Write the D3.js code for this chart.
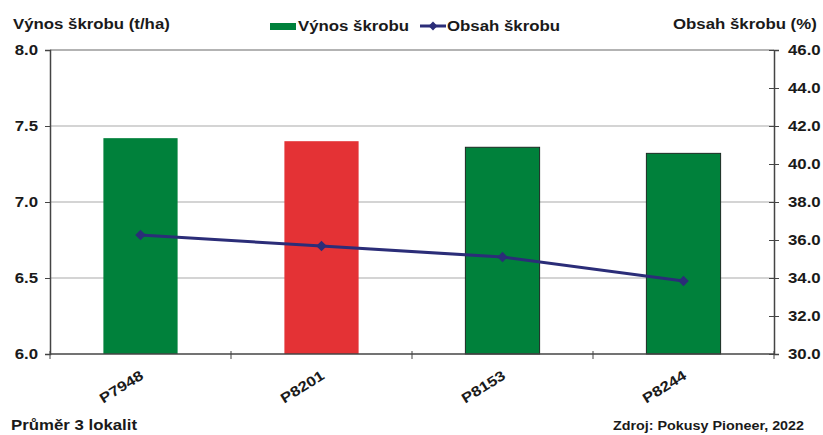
<!DOCTYPE html>
<html><head><meta charset="utf-8">
<script src="https://cdn.jsdelivr.net/npm/d3@7"></script>
<style>body{margin:0;background:#fff}text{font-family:"Liberation Sans",Arial,sans-serif;font-weight:bold;fill:#1a1a1a}</style>
</head><body><svg id="c" width="823" height="435"></svg>
<script>
const categories = ["P7948","P8201","P8153","P8244"];
const yieldValues = [7.42, 7.40, 7.36, 7.32];
const starchValues = [36.26, 35.68, 35.1, 33.84];
const barColors = ["#00813b","#e43235","#00813b","#00813b"];
const barStroke = [false,false,true,true];
const leftTicks = [6.0,6.5,7.0,7.5,8.0];
const rightTicks = [30,32,34,36,38,40,42,44,46];

const FONT = "Liberation Sans";
const STRETCH = 1.2;
const svg = d3.select("#c");
const L=50,R=774,T=50,B=354;
const x = d3.scaleBand().domain(categories).range([L,R]);
const yL = d3.scaleLinear().domain([6,8]).range([B,T]);
const yR = d3.scaleLinear().domain([30,46]).range([B,T]);

// gridlines
svg.append("g").selectAll("line").data(leftTicks.slice(1,4)).join("line")
 .attr("x1",L).attr("x2",R).attr("y1",d=>yL(d)).attr("y2",d=>yL(d))
 .attr("stroke","#d4d4d4").attr("stroke-width",2);
svg.append("line").attr("x1",L).attr("x2",R).attr("y1",T).attr("y2",T).attr("stroke","#9a9a9a").attr("stroke-width",1.5);

// bars
const bw = x.bandwidth()*0.41;
svg.append("g").selectAll("rect").data(categories).join("rect")
 .attr("x",d=>x(d)+x.bandwidth()/2-bw/2).attr("width",bw)
 .attr("y",(d,i)=>yL(yieldValues[i])).attr("height",(d,i)=>B-yL(yieldValues[i]))
 .attr("fill",(d,i)=>barColors[i])
 .attr("stroke",(d,i)=>barStroke[i]?"#1b2a22":"none").attr("stroke-width",1);

// axes
const gl = svg.append("g").attr("transform",`translate(${L},0)`)
 .call(d3.axisLeft(yL).tickValues(leftTicks).tickFormat(d3.format(".1f")).tickSize(5).tickPadding(8));
const gr = svg.append("g").attr("transform",`translate(${R},0)`)
 .call(d3.axisRight(yR).tickValues(rightTicks).tickFormat(d3.format(".1f")).tickSize(5).tickPadding(9));
[gl,gr].forEach(g=>{g.select(".domain").attr("stroke","#444").attr("stroke-width",1.5);
 g.selectAll(".tick line").attr("stroke","#444");
 g.selectAll("text").attr("font-size",14).attr("font-family",FONT).attr("font-weight","bold").attr("fill","#1a1a1a");});
gr.selectAll(".tick line").attr("x1",-5).attr("x2",5);
gl.selectAll(".tick text").attr("x",-12);

// bottom axis
svg.append("line").attr("x1",L).attr("x2",R).attr("y1",B).attr("y2",B).attr("stroke","#444").attr("stroke-width",1.5);
const bounds = categories.map(d=>x(d)).concat([R]);
svg.append("g").selectAll("line").data(bounds).join("line")
 .attr("x1",d=>d).attr("x2",d=>d).attr("y1",B-3).attr("y2",B+5).attr("stroke","#444");
svg.append("g").selectAll("text").data(categories).join("text")
 .attr("transform",d=>`translate(${x(d)+x.bandwidth()/2+4},${B+24}) rotate(-32)`)
 .attr("text-anchor","end").attr("font-size",14).text(d=>d);

// line
const pts = categories.map((d,i)=>[x(d)+x.bandwidth()/2, yR(starchValues[i])]);
svg.append("path").attr("d",d3.line()(pts)).attr("fill","none").attr("stroke","#2b2d78").attr("stroke-width",3);
svg.append("g").selectAll("path").data(pts).join("path")
 .attr("transform",d=>`translate(${d[0]},${d[1]})`)
 .attr("d",d3.symbol(d3.symbolDiamond2,70)).attr("fill","#2b2d78");

// titles
svg.append("text").attr("x",13).attr("y",29).attr("font-size",14).text("Výnos škrobu (t/ha)");
svg.append("text").attr("x",673).attr("y",29).attr("font-size",14).text("Obsah škrobu (%)");
// legend
svg.append("rect").attr("x",270).attr("y",23).attr("width",26).attr("height",7).attr("fill","#00813b");
svg.append("text").attr("x",298).attr("y",31).attr("font-size",14).text("Výnos škrobu");
svg.append("line").attr("x1",420).attr("x2",446).attr("y1",26).attr("y2",26).attr("stroke","#2b2d78").attr("stroke-width",3);
svg.append("path").attr("transform","translate(433,26)").attr("d",d3.symbol(d3.symbolDiamond2,50)).attr("fill","#2b2d78");
svg.append("text").attr("x",447).attr("y",31).attr("font-size",14).text("Obsah škrobu");
// footer
svg.append("text").attr("x",11).attr("y",430).attr("font-size",14).text("Průměr 3 lokalit");

// widen all text horizontally to match the reference's stretched glyphs
svg.selectAll("text").each(function(){
  const w = this.getComputedTextLength();
  d3.select(this).attr("textLength", w*STRETCH).attr("lengthAdjust","spacingAndGlyphs");
});
svg.append("text").attr("x",613).attr("y",430).attr("font-size",13)
 .attr("textLength",191).attr("lengthAdjust","spacingAndGlyphs").text("Zdroj: Pokusy Pioneer, 2022");
</script></body></html>
